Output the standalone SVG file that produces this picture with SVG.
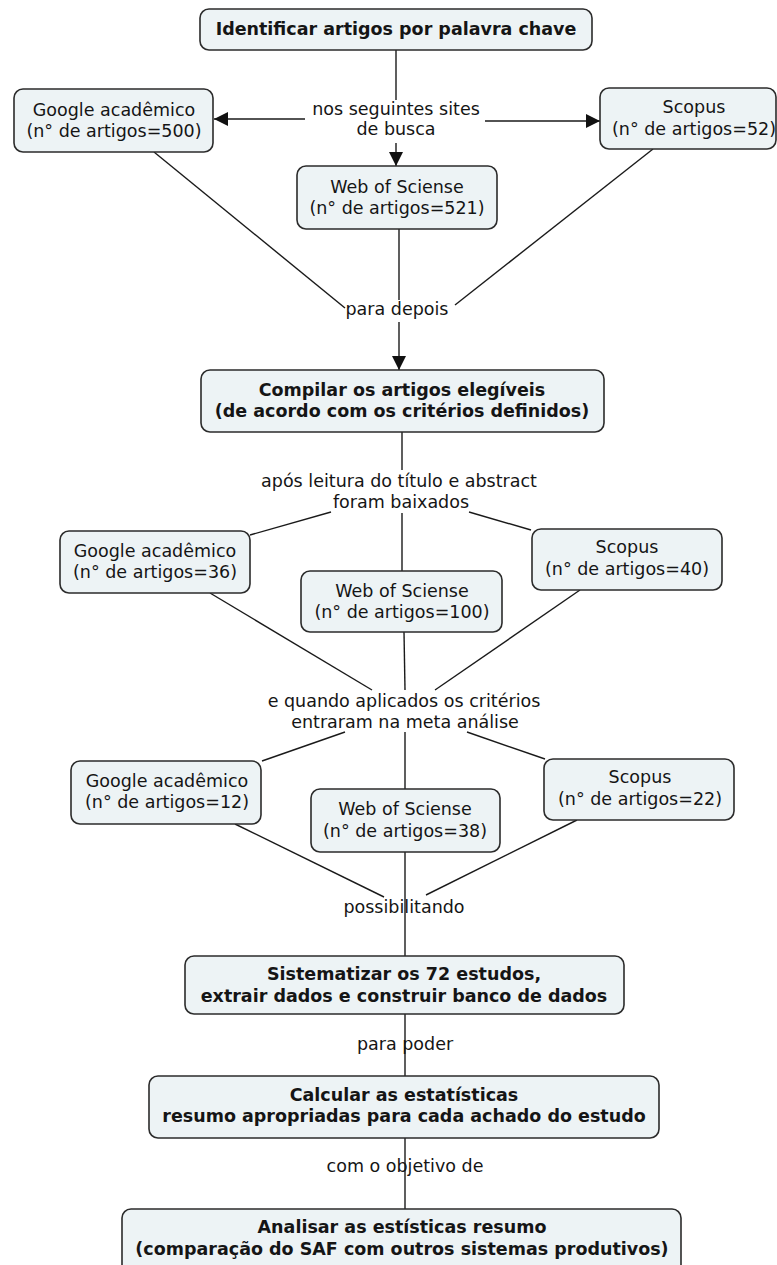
<svg xmlns="http://www.w3.org/2000/svg" width="777" height="1265" viewBox="0 0 777 1265">
<style>
.box{fill:#edf3f5;stroke:#2b2b2b;stroke-width:1.6}
.t{font-family:"DejaVu Sans",Verdana,sans-serif;font-size:17.5px;fill:#151515;text-anchor:middle}
.b{font-weight:bold}
.ln{stroke:#1a1a1a;stroke-width:1.4;fill:none}
.ar{marker-end:url(#ah)}
</style>
<defs>
<marker id="ah" viewBox="0 0 14 14" refX="14" refY="7" markerWidth="14" markerHeight="14" markerUnits="userSpaceOnUse" orient="auto">
<path d="M0,0 L14,7 L0,14 z" fill="#111"/>
</marker>
</defs>
<rect width="777" height="1265" fill="#ffffff"/>
<g id="connectors">
<line class="ln" x1="396" y1="50" x2="396" y2="100"/>
<line class="ln ar" x1="305" y1="119" x2="214" y2="119"/>
<line class="ln ar" x1="485" y1="121" x2="600" y2="121"/>
<line class="ln ar" x1="396" y1="143" x2="396" y2="166"/>
<line class="ln" x1="154" y1="152" x2="345" y2="308"/>
<line class="ln" x1="653" y1="149" x2="455" y2="305"/>
<line class="ln" x1="399" y1="229" x2="399" y2="300"/>
<line class="ln ar" x1="399" y1="322" x2="399" y2="370"/>
<line class="ln" x1="402" y1="432" x2="402" y2="470"/>
<line class="ln" x1="331" y1="512" x2="250" y2="535"/>
<line class="ln" x1="469" y1="512" x2="531" y2="530"/>
<line class="ln" x1="402" y1="513" x2="402" y2="571"/>
<line class="ln" x1="210" y1="593" x2="372" y2="690"/>
<line class="ln" x1="404" y1="632" x2="405" y2="690"/>
<line class="ln" x1="580" y1="590" x2="435" y2="690"/>
<line class="ln" x1="345" y1="732" x2="262" y2="761"/>
<line class="ln" x1="405" y1="732" x2="405" y2="789"/>
<line class="ln" x1="467" y1="732" x2="545" y2="759"/>
<line class="ln" x1="235" y1="824" x2="384" y2="897"/>
<line class="ln" x1="577" y1="820" x2="426" y2="895"/>
<line class="ln" x1="405" y1="852" x2="405" y2="956"/>
<line class="ln" x1="405" y1="1014" x2="405" y2="1076"/>
<line class="ln" x1="405" y1="1138" x2="405" y2="1209"/>
</g>
<g id="labels">
<text class="t" x="396" y="115">nos seguintes sites</text>
<text class="t" x="396" y="135">de busca</text>
<text class="t" x="397" y="315">para depois</text>
<text class="t" x="399" y="487">após leitura do título e abstract</text>
<text class="t" x="401" y="508">foram baixados</text>
<text class="t" x="404" y="707">e quando aplicados os critérios</text>
<text class="t" x="405" y="728">entraram na meta análise</text>
<text class="t" x="404" y="913">possibilitando</text>
<text class="t" x="405" y="1050">para poder</text>
<text class="t" x="405" y="1172">com o objetivo de</text>
</g>
<g id="n-identificar">
<rect class="box" x="200" y="9" width="392" height="41" rx="9"/>
<text class="t b" x="396" y="35">Identificar artigos por palavra chave</text>
</g>
<g id="n-google1">
<rect class="box" x="14" y="89" width="199" height="63" rx="9"/>
<text class="t" x="114" y="116">Google acadêmico</text>
<text class="t" x="114" y="137">(n° de artigos=500)</text>
</g>
<g id="n-scopus1">
<rect class="box" x="600" y="88" width="176" height="61" rx="9"/>
<text class="t" x="694" y="113">Scopus</text>
<text class="t" x="694" y="135">(n° de artigos=52)</text>
</g>
<g id="n-web1">
<rect class="box" x="297" y="166" width="200" height="63" rx="9"/>
<text class="t" x="397" y="193">Web of Sciense</text>
<text class="t" x="397" y="214">(n° de artigos=521)</text>
</g>
<g id="n-compilar">
<rect class="box" x="201" y="370" width="403" height="62" rx="9"/>
<text class="t b" x="402" y="396">Compilar os artigos elegíveis</text>
<text class="t b" x="402" y="417">(de acordo com os critérios definidos)</text>
</g>
<g id="n-google2">
<rect class="box" x="60" y="531" width="190" height="62" rx="9"/>
<text class="t" x="155" y="557">Google acadêmico</text>
<text class="t" x="155" y="578">(n° de artigos=36)</text>
</g>
<g id="n-web2">
<rect class="box" x="301" y="571" width="201" height="61" rx="9"/>
<text class="t" x="402" y="597">Web of Sciense</text>
<text class="t" x="402" y="618">(n° de artigos=100)</text>
</g>
<g id="n-scopus2">
<rect class="box" x="532" y="529" width="190" height="61" rx="9"/>
<text class="t" x="627" y="553">Scopus</text>
<text class="t" x="627" y="575">(n° de artigos=40)</text>
</g>
<g id="n-google3">
<rect class="box" x="71" y="761" width="190" height="63" rx="9"/>
<text class="t" x="167" y="787">Google acadêmico</text>
<text class="t" x="167" y="808">(n° de artigos=12)</text>
</g>
<g id="n-web3">
<rect class="box" x="311" y="789" width="189" height="63" rx="9"/>
<text class="t" x="405" y="815">Web of Sciense</text>
<text class="t" x="405" y="837">(n° de artigos=38)</text>
</g>
<g id="n-scopus3">
<rect class="box" x="544" y="759" width="190" height="61" rx="9"/>
<text class="t" x="640" y="783">Scopus</text>
<text class="t" x="640" y="805">(n° de artigos=22)</text>
</g>
<g id="n-sistematizar">
<rect class="box" x="185" y="956" width="439" height="58" rx="9"/>
<text class="t b" x="404" y="980">Sistematizar os 72 estudos,</text>
<text class="t b" x="404" y="1002">extrair dados e construir banco de dados</text>
</g>
<g id="n-calcular">
<rect class="box" x="149" y="1076" width="510" height="62" rx="9"/>
<text class="t b" x="404" y="1101">Calcular as estatísticas</text>
<text class="t b" x="404" y="1122">resumo apropriadas para cada achado do estudo</text>
</g>
<g id="n-analisar">
<rect class="box" x="122" y="1209" width="559" height="70" rx="9"/>
<text class="t b" x="402" y="1233">Analisar as estísticas resumo</text>
<text class="t b" x="402" y="1255">(comparação do SAF com outros sistemas produtivos)</text>
</g>
</svg>
